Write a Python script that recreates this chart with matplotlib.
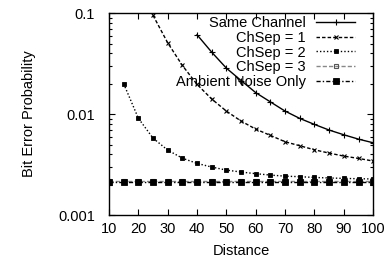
import numpy as np
import matplotlib
matplotlib.use("Agg")
import matplotlib.pyplot as plt
from matplotlib.ticker import LogLocator, NullFormatter, FixedLocator

plt.rcParams["font.family"] = ["Liberation Sans", "DejaVu Sans"]
plt.rcParams["font.size"] = 10.5

# bit error probability vs distance
d_same = [40, 45, 50, 55, 60, 65, 70, 75, 80, 85, 90, 95, 100]
ber_same = [0.061, 0.041, 0.0285, 0.0215, 0.0163, 0.0132, 0.0107,
            0.00906, 0.0079, 0.00695, 0.00624, 0.00565, 0.0052]

d_sep1 = [25, 30, 35, 40, 45, 50, 55, 60, 65, 70, 75, 80, 85, 90, 95, 100]
ber_sep1 = [0.095, 0.0508, 0.0303, 0.0197, 0.0141, 0.0107, 0.00853, 0.0071,
            0.00615, 0.00532, 0.00486, 0.00443, 0.00411, 0.00384, 0.00364, 0.00343]

d_sep2 = [15, 20, 25, 30, 35, 40, 45, 50, 55, 60, 65, 70, 75, 80, 85, 90, 95, 100]
ber_sep2 = [0.0200, 0.0091, 0.00578, 0.0044, 0.00366, 0.00325, 0.00299, 0.00279,
            0.00267, 0.00257, 0.00249, 0.00243, 0.0024, 0.00236, 0.00233,
            0.00231, 0.00229, 0.00228]

d_sep3 = [10, 15, 20, 25, 30, 35, 40, 45, 50, 55, 60, 65, 70, 75, 80, 85, 90, 95, 100]
ber_sep3 = [0.00216] * len(d_sep3)

d_amb = [10, 15, 20, 25, 30, 35, 40, 45, 50, 55, 60, 65, 70, 75, 80, 85, 90, 95, 100]
ber_amb = [0.00213] * len(d_amb)

fig = plt.figure(figsize=(3.92, 2.62), dpi=100)
ax = fig.add_axes([0.278, 0.179, 0.674, 0.771])

ax.plot(d_same, ber_same, color="black", lw=1, ls="-", marker="+", ms=4,
        mew=0.8, label="Same Channel")
ax.plot(d_sep1, ber_sep1, color="black", lw=1, ls=(0, (2.5, 1.5)), marker="x",
        ms=3, mew=0.8, label="ChSep = 1")
ax.plot(d_sep2, ber_sep2, color="black", lw=1, ls=(0, (1, 1.5)), marker="s",
        ms=2.5, mew=0.6, label="ChSep = 2")
ax.plot(d_sep3, ber_sep3, color="#888888", lw=1, ls=(0, (3, 1.5)), marker="s",
        ms=3.5, mew=0.8, mfc="none", mec="#555555", label="ChSep = 3")
ax.plot(d_amb, ber_amb, color="black", lw=1, ls=(0, (3, 1.5, 1, 1.5)), marker="s",
        ms=4, mew=0.6, label="Ambient Noise Only")

ax.set_yscale("log")
ax.set_xlim(10, 100)
ax.set_ylim(0.001, 0.1)
ax.xaxis.set_major_locator(FixedLocator(range(10, 101, 10)))
ax.set_yticks([0.001, 0.01, 0.1])
ax.set_yticklabels(["0.001", "0.01", "0.1"])
ax.yaxis.set_minor_locator(LogLocator(base=10, subs=np.arange(2, 10)))
ax.yaxis.set_minor_formatter(NullFormatter())
ax.tick_params(which="both", direction="in", top=True, right=True, width=0.8)
ax.tick_params(which="major", length=4)
ax.tick_params(which="minor", length=2)
ax.tick_params(axis="x", which="major", pad=5)
ax.tick_params(axis="y", which="major", pad=10)
for s in ax.spines.values():
    s.set_linewidth(1)

ax.set_xlabel("Distance", labelpad=6)
ax.set_ylabel("Bit Error Probability", labelpad=16)

ax.legend(loc="upper right", bbox_to_anchor=(0.932, 0.985), frameon=False,
          markerfirst=False, handlelength=2.67, labelspacing=0.05,
          borderaxespad=0.0, handletextpad=0.7, borderpad=0.0)

fig.savefig("out.png", dpi=100)
